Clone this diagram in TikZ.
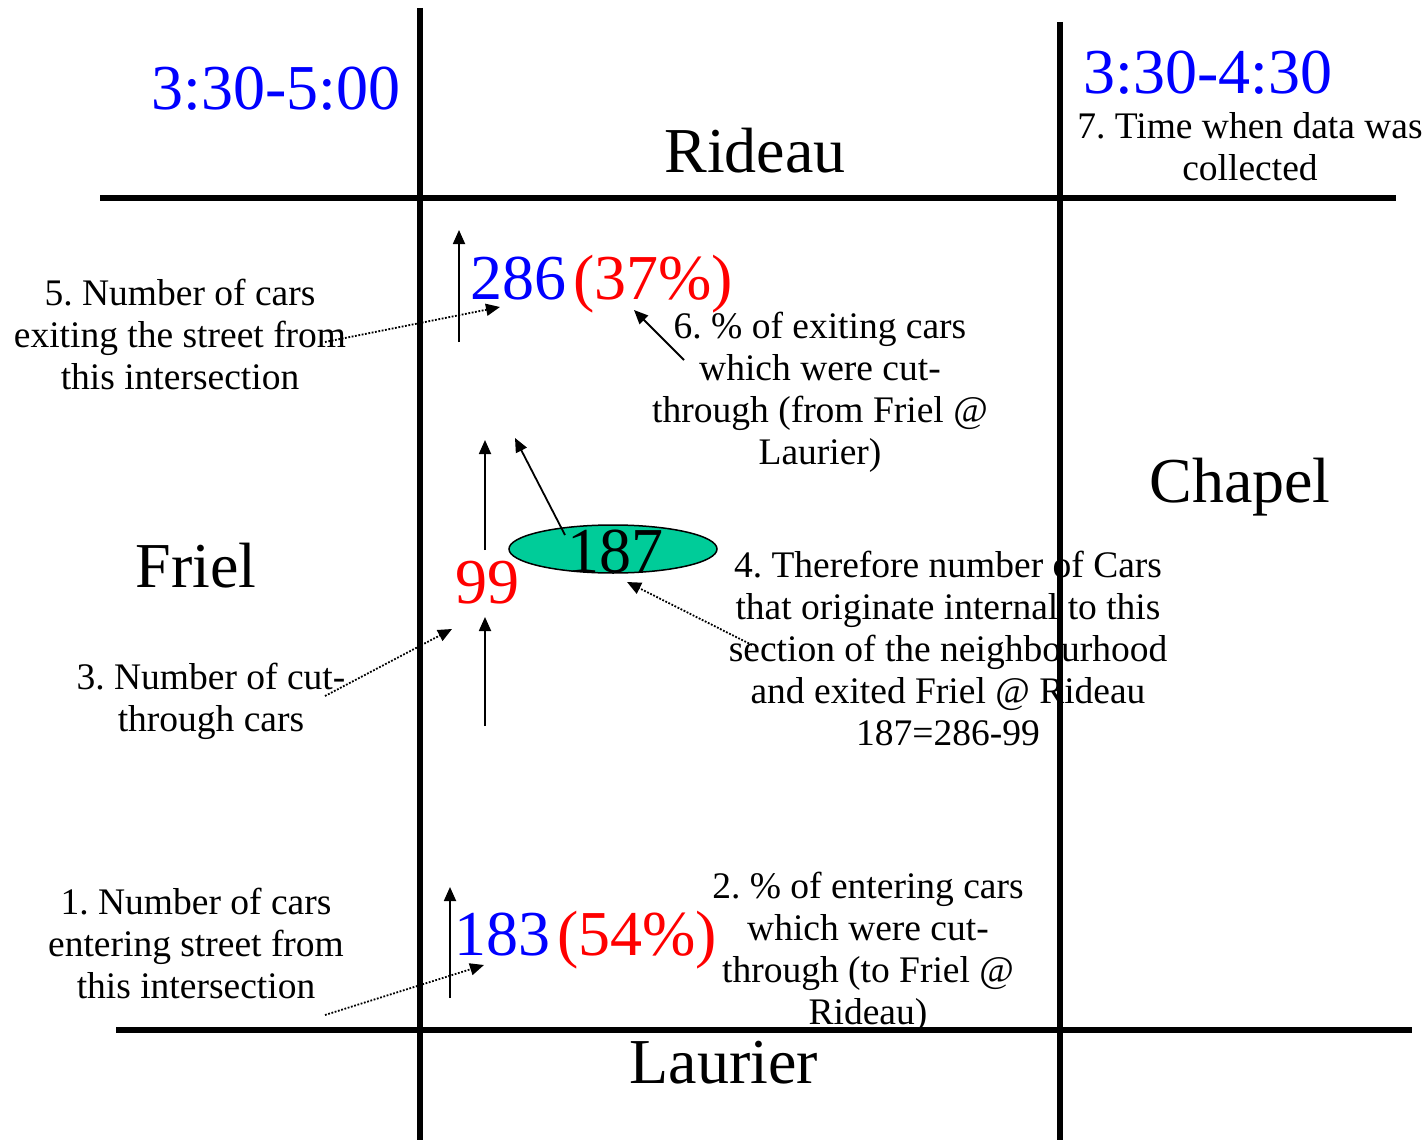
\documentclass[tikz,border=0pt]{standalone}
\usepackage{fontspec}
\setmainfont{Liberation Serif}
\usetikzlibrary{arrows.meta,shapes.geometric}
\definecolor{ellgreen}{HTML}{00CC99}
\frenchspacing
\begin{document}
\begin{tikzpicture}[x=1pt,y=-1pt,
 road/.style={line width=6.5pt},
 arr/.style={line width=1.8pt,-{Triangle[length=14pt,width=12pt]}},
 darr/.style={line width=1.8pt,dash pattern=on 1.8pt off 1.6pt,-{Triangle[length=14pt,width=12pt]}},
 note/.style={font=\fontsize{37.5}{42}\selectfont,align=center,inner sep=0pt,anchor=base},
 big/.style={font=\fontsize{64}{70}\selectfont,inner sep=0pt,anchor=base},
 ]
\useasboundingbox (0,0) rectangle (1428,1140);
\fill[white] (0,0) rectangle (1428,1140);

% titles
\node[big,text=blue] (t1) at (276,110) {3:30-5:00};
\node[big,text=blue] (t2) at (1208,94) {3:30-4:30};
\node[note] (n7) at (1250,180) {7. Time when data was\\collected};
\node[big] (rideau) at (755,172) {Rideau};
\node[big] (chapel) at (1240,502) {Chapel};
\node[big] (friel) at (196,587) {Friel};
\node[big] (laurier) at (724,1083) {Laurier};

% numbers
\node[big,text=blue,anchor=base east] (n286) at (567,299) {286};
\node[big,text=red,anchor=base west] (p37) at (573,299) {(37\%)};
\node[big,text=blue,anchor=base east] (n183) at (551,955) {183};
\node[big,text=red,anchor=base west] (p54) at (557,955) {(54\%)};
\node[big,text=red] (n99) at (487,603) {99};

% notes (base anchor = baseline of the last line)
\node[note] (n5) at (180,389) {5. Number of cars\\exiting the street from\\this intersection};
\node[note] (n6) at (820,464) {6. \% of exiting cars\\which were cut-\\through (from Friel @\\Laurier)};
\node[note] (n4) at (948,745) {4. Therefore number of Cars\\that originate internal to this\\section of the neighbourhood\\and exited Friel @ Rideau\\187=286-99};
\node[note] (n3) at (211,731) {3. Number of cut-\\through cars};
\node[note] (n1) at (196,998) {1. Number of cars\\entering street from\\this intersection};
\node[note] (n2) at (868,1024) {2. \% of entering cars\\which were cut-\\through (to Friel @\\Rideau)};

% arrow coordinates
\coordinate (a5s) at (459,342); \coordinate (a5e) at (459,230);
\coordinate (d5s) at (325,342); \coordinate (d5e) at (500,307);
\coordinate (a6s) at (684,360); \coordinate (a6e) at (634,310);
\coordinate (a9s) at (485,550); \coordinate (a9e) at (485,440);
\coordinate (aes) at (565,535); \coordinate (aee) at (515,438);
\coordinate (a8s) at (485,726); \coordinate (a8e) at (485,617);
\coordinate (d3s) at (325,696); \coordinate (d3e) at (452,629);
\coordinate (d4s) at (752,645); \coordinate (d4e) at (627,582);
\coordinate (a1s) at (450,998); \coordinate (a1e) at (450,887);
\coordinate (d1s) at (325,1015); \coordinate (d1e) at (484,965);

% ellipse
\node[ellipse,draw,line width=1.5pt,fill=ellgreen,minimum width=208pt,minimum height=48pt,inner sep=0pt] (e187) at (613,549) {};
\node[big,anchor=base] (n187) at (615,572) {187};

\draw[arr] (a5s) -- (a5e);
\draw[darr] (d5s) -- (d5e);
\draw[arr] (a6s) -- (a6e);
\draw[arr] (a9s) -- (a9e);
\draw[arr] (aes) -- (aee);
\draw[arr] (a8s) -- (a8e);
\draw[darr] (d3s) -- (d3e);
\draw[darr] (d4s) -- (d4e);
\draw[arr] (a1s) -- (a1e);
\draw[darr] (d1s) -- (d1e);

% roads
\coordinate (v1t) at (420,8); \coordinate (v1b) at (420,1140);
\coordinate (v2t) at (1060,22); \coordinate (v2b) at (1060,1140);
\coordinate (h1l) at (100,198); \coordinate (h1r) at (1396,198);
\coordinate (h2l) at (116,1030); \coordinate (h2r) at (1412,1030);
\draw[road] (v1t) -- (v1b);
\draw[road] (v2t) -- (v2b);
\draw[road] (h1l) -- (h1r);
\draw[road] (h2l) -- (h2r);
\end{tikzpicture}
\end{document}
